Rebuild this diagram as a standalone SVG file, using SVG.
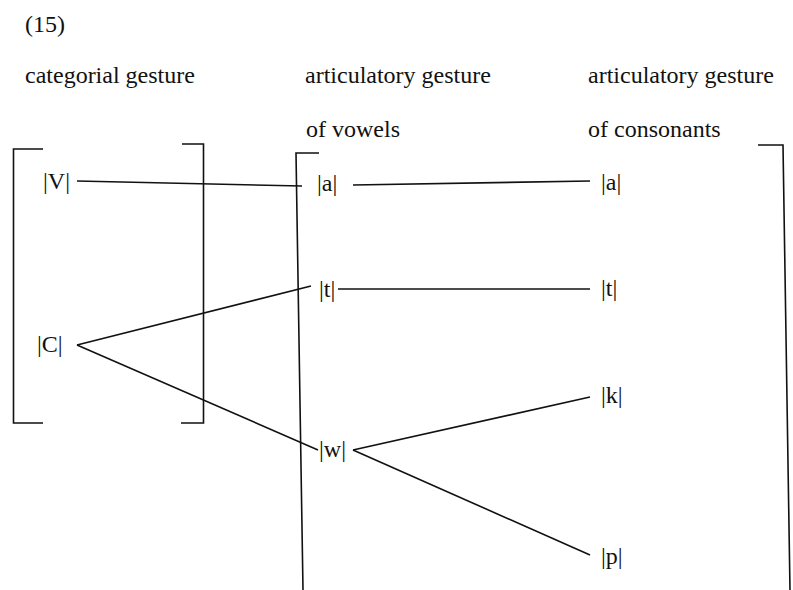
<svg xmlns="http://www.w3.org/2000/svg" width="793" height="590" viewBox="0 0 793 590">
<style>
.ln{stroke:#111;stroke-width:1.6;fill:none;stroke-linecap:butt}
</style>
<rect width="793" height="590" fill="#fff"/>
<g font-family="Liberation Serif, serif" font-size="24" fill="#111">
<g id="headings">
<text x="25" y="32">(15)</text>
<text x="25" y="83">categorial gesture</text>
<text x="305" y="83">articulatory gesture</text>
<text x="306" y="137">of vowels</text>
<text x="588" y="83">articulatory gesture</text>
<text x="588" y="137">of consonants</text>
</g>
<g id="node-V"><text x="43" y="189">|V|</text></g>
<g id="node-C"><text x="37" y="352">|C|</text></g>
<g id="node-va"><text x="317" y="191">|a|</text></g>
<g id="node-vt"><text x="319" y="297">|t|</text></g>
<g id="node-vw"><text x="319" y="457">|w|</text></g>
<g id="node-ca"><text x="601" y="190">|a|</text></g>
<g id="node-ct"><text x="601" y="296">|t|</text></g>
<g id="node-ck"><text x="601" y="403">|k|</text></g>
<g id="node-cp"><text x="601" y="564">|p|</text></g>
</g>
<g id="brackets">
<path class="ln" d="M43,149 H13.5 V423 H43"/>
<path class="ln" d="M182,144 H203.5 V423 H181"/>
<path class="ln" d="M319,153 H296 L303,590"/>
<path class="ln" d="M758,145 H783 L790,590"/>
</g>
<g id="connectors">
<line class="ln" x1="77" y1="181" x2="302" y2="186"/>
<line class="ln" x1="353" y1="185" x2="590" y2="181"/>
<line class="ln" x1="338" y1="289" x2="590" y2="289"/>
<line class="ln" x1="77" y1="345" x2="311" y2="286"/>
<line class="ln" x1="77" y1="345" x2="318" y2="450"/>
<line class="ln" x1="353" y1="450" x2="590" y2="397"/>
<line class="ln" x1="353" y1="450" x2="590" y2="555"/>
</g>
</svg>
